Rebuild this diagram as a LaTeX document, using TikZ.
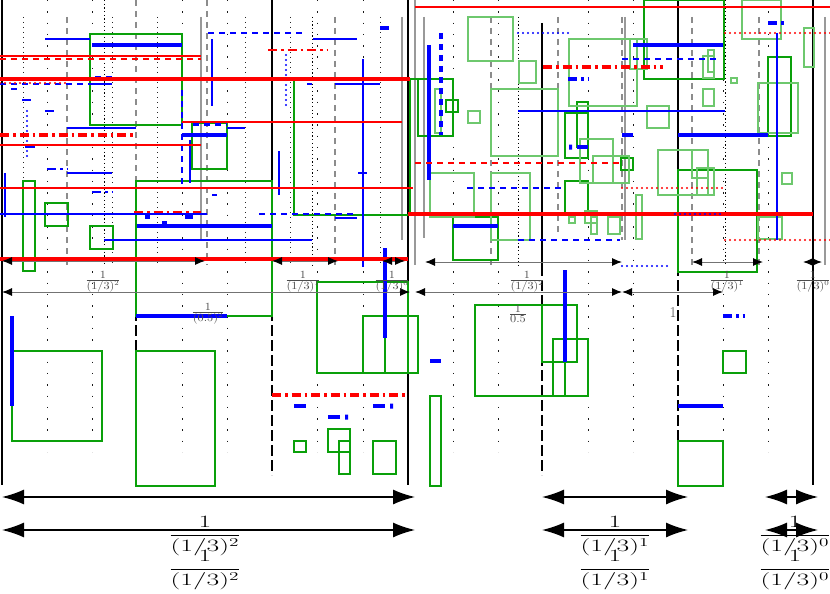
\documentclass[tikz,border=0pt]{standalone}
\usepackage{amsmath}
\usetikzlibrary{arrows.meta}
\definecolor{myred}{RGB}{255,0,0}
\definecolor{myblue}{RGB}{0,0,255}
\definecolor{dgreen}{RGB}{10,160,10}
\definecolor{lgreen}{RGB}{110,200,110}
\tikzset{
  bk/.style={black, line width=1.1pt},
  gs/.style={black!40, line width=1.1pt},
  gd/.style={black!45, line width=1.4pt, dash pattern=on 6pt off 5pt},
  kd/.style={black, line width=1.1pt, dash pattern=on 11pt off 4pt},
  dA/.style={black!90, line width=0.9pt, dash pattern=on 1.5pt off 9.8pt},
  dB/.style={black!85, line width=0.6pt, dash pattern=on 1pt off 4pt},
  dC/.style={black, line width=0.8pt, dash pattern=on 1.2pt off 2.5pt},
  rT/.style={myred, line width=1.3pt},
  rM/.style={myred, line width=2.2pt},
  rK/.style={myred, line width=4.5pt},
  bT/.style={myblue, line width=1.3pt},
  bM/.style={myblue, line width=2.2pt},
  bK/.style={myblue, line width=4.5pt},
  gr/.style={dgreen, line width=1.1pt},
  lg/.style={lgreen, line width=1.1pt},
  dsh/.style={dash pattern=on 6pt off 5pt},
  ddot/.style={dash pattern=on 9pt off 4pt on 2.5pt off 4pt},
  dots/.style={line cap=round, dash pattern=on 0pt off 5pt},
  sarr/.style={black!55, line width=1pt, {Latex[length=10pt,width=8pt,color=black]}-{Latex[length=10pt,width=8pt,color=black]}},
  barr/.style={black, line width=1.3pt, {Latex[length=22pt,width=15pt]}-{Latex[length=22pt,width=15pt]}},
  slab/.style={text=black!70, inner sep=0pt, font=\fontsize{10.5}{12}\selectfont},
  blab/.style={text=black, inner sep=0pt, font=\fontsize{17}{20}\selectfont},
}
\newcommand{\hs}[1]{\scalebox{1.12}[1]{#1}}
\newcommand{\hb}[1]{\scalebox{1.6}[1]{#1}}
\newcommand{\sfr}[2]{$\frac{\textstyle #1}{\textstyle #2}$}
\begin{document}
\begin{tikzpicture}[x=1pt,y=-1pt]
\useasboundingbox (0,0) rectangle (830,594);
% ---------- grid ----------
\foreach \x in {47,92,182,227,317,363,453,498,588,633,723,768} \draw[dA] (\x,0) -- (\x,452);
\foreach \x/\a/\b in {2/0/485,408/0/485,813/0/485,272/0/265,678/0/265,542/23/265} \draw[bk] (\x,\a) -- (\x,\b);
\foreach \x/\a/\b in {136/265/452,272/265/475,542/265/475,678/265/485} \draw[kd] (\x,\a) -- (\x,\b);
\foreach \x/\a/\b in {201/17/240,402/17/240,415/0/265,424/17/238,625/17/240,825/17/265} \draw[gs] (\x,\a) -- (\x,\b);
\foreach \x/\a/\b in {67/17/265,136/0/265,207/0/265,335/17/265,491/17/265,558/17/234,622/17/240,692/17/265,759/17/265} \draw[gd] (\x,\a) -- (\x,\b);
\foreach \x in {23,112,157,245,290,380} \draw[dB] (\x,17) -- (\x,265);
\foreach \x/\a in {104/0,312/17,518/17,725/0} \draw[dC] (\x,\a) -- (\x,265);
% ---------- green rectangles ----------
\foreach \a/\b/\c/\d in {90/34/182/125,192/123/227/169,294/80/410/215,23/181/35/271,136/181/272/316,45/203/68/226,90/226/113/249,418/79/453/136,446/100/458/112,565/113/588/158,577/102/588/147,621/158/633/170,644/0/724/79,768/57/791/136,453/217/498/260,565/181/588/214,678/170/757/272,12/351/102/441,136/351/215/486,317/282/408/373,363/316/418/373,328/429/350/452,339/441/350/474,294/441/306/452,373/441/396/474,430/396/441/486,475/305/565/396,542/305/577/362,553/339/588/396,723/351/746/373,678/441/723/486}
  \draw[gr] (\a,\b) rectangle (\c,\d);
\draw[gr] (408,79) -- (418,79);
\draw[gr] (385,338) -- (385,373);
\foreach \a/\b/\c/\d in {468/17/513/61,435/89/441/133,468/111/480/123,519/61/536/83,491/89/558/156,569/39/637/106,580/139/613/183,593/156/629/183,742/0/781/39,630/39/647/69,708/50/714/72,703/56/714/78,804/28/814/67,731/78/737/83,703/89/714/106,647/106/669/128,758/83/798/133,430/173/474/217,491/173/530/240,569/217/575/223,585/211/597/223,591/217/597/234,608/217/620/234,658/150/708/195,697/168/714/195,692/150/708/178,782/173/792/184,636/195/642/239,758/217/782/239}
  \draw[lg] (\a,\b) rectangle (\c,\d);
% ---------- blue ----------
\foreach \a/\b/\c/\d in {45/39/90/39,90/84/112/84,11/89/17/89,67/128/136/128,227/128/245/128,212/39/212/106,313/39/357/39,335/84/380/84,307/84/312/84,5/173/5/217,67/173/112/173,0/214/207/214,104/240/312/240,335/218/357/218,358/173/367/173,212/195/217/195}
  \draw[bT] (\a,\b) -- (\c,\d);
\foreach \a/\b/\c/\d in {363/59/363/267,190/140/190/183,279/151/279/195,518/111/725/111,777/33/777/240}
  \draw[bM] (\a,\b) -- (\c,\d);
\foreach \a/\b/\c/\d in {0/84/96/84,208/33/305/33,259/214/357/214,622/59/720/59,467/188/563/188,518/240/620/240,182/90/182/188}
  \draw[bM,dsh] (\a,\b) -- (\c,\d);
\foreach \a/\b/\c/\d in {92/45/182/45,182/135/227/135,137/226/272/226,429/45/429/180,633/45/723/45,678/135/768/135,622/135/633/135,453/226/498/226,577/147/588/147,12/316/12/406,136/316/227/316,385/248/385/338,565/270/565/362,430/361/441/361,678/406/723/406,25/146/35/146,145/217/150/217,185/217/193/217,162/223/167/223,294/406/306/406,373/406/385/406,328/417/340/417}
  \draw[bK] (\a,\b) -- (\c,\d);
\foreach \a/\b/\c/\d in {95/78/112/78,193/124/227/124,441/33/441/135}
  \draw[bK,dsh] (\a,\b) -- (\c,\d);
\foreach \a/\b/\c/\d in {768/23/787/23,568/79/588/79,723/316/745/316,380/28/392/28}
  \draw[bK,ddot] (\a,\b) -- (\c,\d);
\foreach \a/\b/\c/\d in {47/169/67/169,22/100/33/100,45/111/56/111,92/192/112/192}
  \draw[bM,ddot] (\a,\b) -- (\c,\d);
\fill[myblue] (390,403.5) rectangle (393,408.5) (345,414.5) rectangle (348,419.5) (569,144.5) rectangle (572,149.5);
\foreach \a/\b/\c/\d in {27/111/27/157,286/55/286/105,518/33/570/33,622/266/670/266}
  \draw[bM,dots] (\a,\b) -- (\c,\d);
% ---------- red ----------
\foreach \a/\b/\c/\d in {182/122/402/122,0/145/201/145,0/188/413/188,415/7/830/7}
  \draw[rT] (\a,\b) -- (\c,\d);
\draw[rM] (0,56) -- (201,56);
\draw[rM,dsh] (0,59) -- (201,59);
\draw[rM,dsh] (415,163) -- (620,163);
\foreach \a/\b/\c/\d in {0/79/410/79,0/259/408/259,408/214/813/214}
  \draw[rK] (\a,\b) -- (\c,\d);
\foreach \a/\b/\c/\d in {0/135/136/135,543/67/663/67,272/395/408/395}
  \draw[rK,ddot] (\a,\b) -- (\c,\d);
\foreach \a/\b/\c/\d in {268/50/328/50,134/212/201/212}
  \draw[rT,ddot] (\a,\b) -- (\c,\d);
\foreach \a/\b/\c/\d in {0/83/67/83,725/33/830/33,622/188/722/188,725/240/830/240}
  \draw[rM,dots] (\a,\b) -- (\c,\d);
\draw[bM,dots] (675,214) -- (722,214);
% ---------- dimension arrows ----------
\foreach \a/\c/\y in {2/205/261,272/338/261,382/405/261,425/622/262,692/763/262,803/822/262,2/410/292,415/622/292,622/723/292}
  \draw[sarr] (\a,\y) -- (\c,\y);
\foreach \a/\c in {2/415,542/688,765/818} {
  \draw[barr] (\a,497) -- (\c,497);
  \draw[barr] (\a,530) -- (\c,530);
}
% ---------- labels ----------
\node[slab] (s1) at (103,282) {\hs{\sfr{1}{(1/3)^2}}};
\node[slab] (s2) at (303,282) {\hs{\sfr{1}{(1/3)^1}}};
\node[slab] (s3) at (392,282) {\hs{\sfr{1}{(1/3)^0}}};
\node[slab] (s4) at (527,282) {\hs{\sfr{1}{(1/3)^2}}};
\node[slab] (s5) at (727,282) {\hs{\sfr{1}{(1/3)^1}}};
\node[slab] (s6) at (813,282) {\hs{\sfr{1}{(1/3)^0}}};
\node[slab] (s7) at (208,314) {\hs{\sfr{1}{(0.5)^2}}};
\node[slab] (s8) at (518,314) {\hs{\sfr{1}{0.5}}};
\node[slab, font=\fontsize{15}{17}\selectfont] (s9) at (673,313) {1};
\node[blab] (b1) at (205,536) {\hb{$\dfrac{1}{(1/3)^2}$}};
\node[blab] (b2) at (205,570) {\hb{$\dfrac{1}{(1/3)^2}$}};
\node[blab] (b3) at (615,536) {\hb{$\dfrac{1}{(1/3)^1}$}};
\node[blab] (b4) at (615,570) {\hb{$\dfrac{1}{(1/3)^1}$}};
\node[blab] (b5) at (795,536) {\hb{$\dfrac{1}{(1/3)^0}$}};
\node[blab] (b6) at (795,570) {\hb{$\dfrac{1}{(1/3)^0}$}};
\end{tikzpicture}
\end{document}
